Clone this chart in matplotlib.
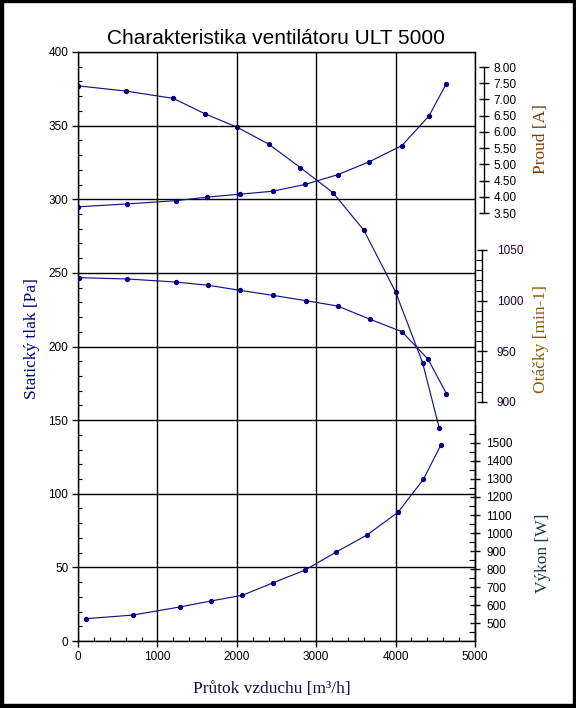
import numpy as np
import matplotlib.pyplot as plt
from matplotlib.ticker import MultipleLocator, FixedLocator, FormatStrFormatter
from matplotlib.patches import Rectangle

# data
flow_pa = [0, 600, 1200, 1600, 2000, 2400, 2800, 3210, 3600, 4000, 4340, 4550]
tlak = [377, 373.5, 368.5, 358, 349, 337.5, 321.5, 304.5, 279, 237, 189, 144.5]

flow_a = [0, 620, 1230, 1630, 2040, 2450, 2860, 3270, 3670, 4080, 4420, 4640]
proud = [3.69, 3.78, 3.88, 3.99, 4.08, 4.17, 4.38, 4.68, 5.08, 5.58, 6.49, 7.49]

flow_n = [10, 620, 1230, 1640, 2040, 2450, 2870, 3270, 3680, 4080, 4410, 4640]
otacky = [1022.7, 1021.4, 1018.4, 1015.2, 1010.2, 1005.3, 1000, 994.7, 981.6, 969.4, 942.1, 908.2]

flow_w = [100, 690, 1280, 1670, 2070, 2460, 2860, 3250, 3640, 4030, 4350, 4570]
vykon = [524, 544, 589, 622, 654, 724, 794, 894, 989, 1115, 1298, 1489]

W, H = 576, 708
sans = 'Liberation Sans'
serif = 'Liberation Serif'
plt.rcParams['font.family'] = [sans, 'DejaVu Sans']

fig = plt.figure(figsize=(W / 100, H / 100), dpi=100)
fig.patch.set_facecolor('white')

# axes rectangle in pixels
x0, x1 = 78, 475
ytop, ybot = 52, 641
ax = fig.add_axes([x0 / W, 1 - ybot / H, (x1 - x0) / W, (ybot - ytop) / H])
ax.set_xlim(0, 5000)
ax.set_ylim(0, 400)

navy = '#000080'
line_kw = dict(color='#14148a', lw=0.85, marker='o', ms=2.8, mfc=navy, mec=navy)

ax.plot(flow_pa, tlak, **line_kw)
ax.xaxis.set_major_locator(MultipleLocator(1000))
ax.xaxis.set_minor_locator(MultipleLocator(200))
ax.yaxis.set_major_locator(MultipleLocator(50))
ax.yaxis.set_minor_locator(MultipleLocator(10))
ax.tick_params(which='major', direction='out', length=4, width=1, labelsize=8.5, pad=3)
ax.tick_params(which='minor', direction='in', length=3, width=0.8)
ax.grid(True, which='major', color='black', lw=1.0)
for s in ax.spines.values():
    s.set_linewidth(1.0)
ax.set_axisbelow(False)


def side_axis(lo, hi, px_lo, px_hi, xpos):
    # secondary axis drawn only over part of the height, like in Excel
    a = ax.twinx()
    per = (px_lo - px_hi) / (hi - lo)
    a.set_ylim(lo - (ybot - px_lo) / per, hi + (px_hi - ytop) / per)
    for k in ('top', 'bottom', 'left'):
        a.spines[k].set_visible(False)
    a.spines['right'].set_position(('axes', xpos))
    a.spines['right'].set_linewidth(1.0)
    return a


# Proud [A]
axa = side_axis(3.5, 8.0, 213, 67, (484 - x0) / (x1 - x0))
axa.spines['right'].set_bounds(3.5, 8.0)
axa.plot(flow_a, proud, **line_kw)
axa.yaxis.set_major_locator(FixedLocator(np.arange(3.5, 8.01, 0.5)))
axa.yaxis.set_major_formatter(FormatStrFormatter('%.2f'))
axa.tick_params(direction='inout', length=7, width=1, labelsize=8.5, pad=3.5)

# Otacky [min-1]
axn = side_axis(900, 1050, 402, 250, (482 - x0) / (x1 - x0))
axn.spines['right'].set_bounds(900, 1050)
axn.plot(flow_n, otacky, **line_kw)
axn.yaxis.set_major_locator(FixedLocator(np.arange(900, 1051, 50)))
axn.yaxis.set_minor_locator(FixedLocator(np.arange(900, 1051, 10)))
axn.tick_params(which='major', direction='inout', length=7, width=1, labelsize=8.5, pad=7,
                labelcolor='#200030')
axn.tick_params(which='minor', direction='in', length=4, width=0.8)

# Vykon [W]
axw = side_axis(500, 1500, 623, 443, 1.0)
axw.spines['right'].set_bounds(400, 1600)
axw.plot(flow_w, vykon, **line_kw)
axw.yaxis.set_major_locator(FixedLocator(np.arange(500, 1501, 100)))
axw.yaxis.set_minor_locator(FixedLocator(np.arange(450, 1600, 100)))
axw.tick_params(which='major', direction='inout', length=7, width=1, labelsize=8.5, pad=4.5)
axw.tick_params(which='minor', direction='in', length=4, width=0.8)

# texts
fig.text(276 / W, 1 - 38 / H, 'Charakteristika ventilátoru ULT 5000', ha='center', va='center',
         fontsize=15, family=sans)
fig.text(32 / W, 1 - 339 / H, 'Statický tlak [Pa]', rotation=90, ha='center', va='center',
         fontsize=12.5, family=serif, color=navy)
fig.text(272 / W, 1 - 689 / H, 'Průtok vzduchu [m³/h]', ha='center', va='center',
         fontsize=12.5, family=serif, color='#101050')
fig.text(541 / W, 1 - 139 / H, 'Proud [A]', rotation=90, ha='center', va='center',
         fontsize=12.5, family=serif, color='#7a3a00')
fig.text(541 / W, 1 - 339 / H, 'Otáčky [min-1]', rotation=90, ha='center', va='center',
         fontsize=12.5, family=serif, color='#8a5a00')
fig.text(543 / W, 1 - 553 / H, 'Výkon [W]', rotation=90, ha='center', va='center',
         fontsize=12.5, family=serif, color='#203840')

# black frame round the picture
for (bx, by, bw, bh) in [(0, 0, 3, H), (0, 0, W, 2), (W - 3.5, 0, 3.5, H), (0, H - 4, W, 4)]:
    fig.patches.append(Rectangle((bx / W, 1 - (by + bh) / H), bw / W, bh / H,
                                 transform=fig.transFigure, color='black', zorder=10))

fig.savefig('out.png', dpi=100)
